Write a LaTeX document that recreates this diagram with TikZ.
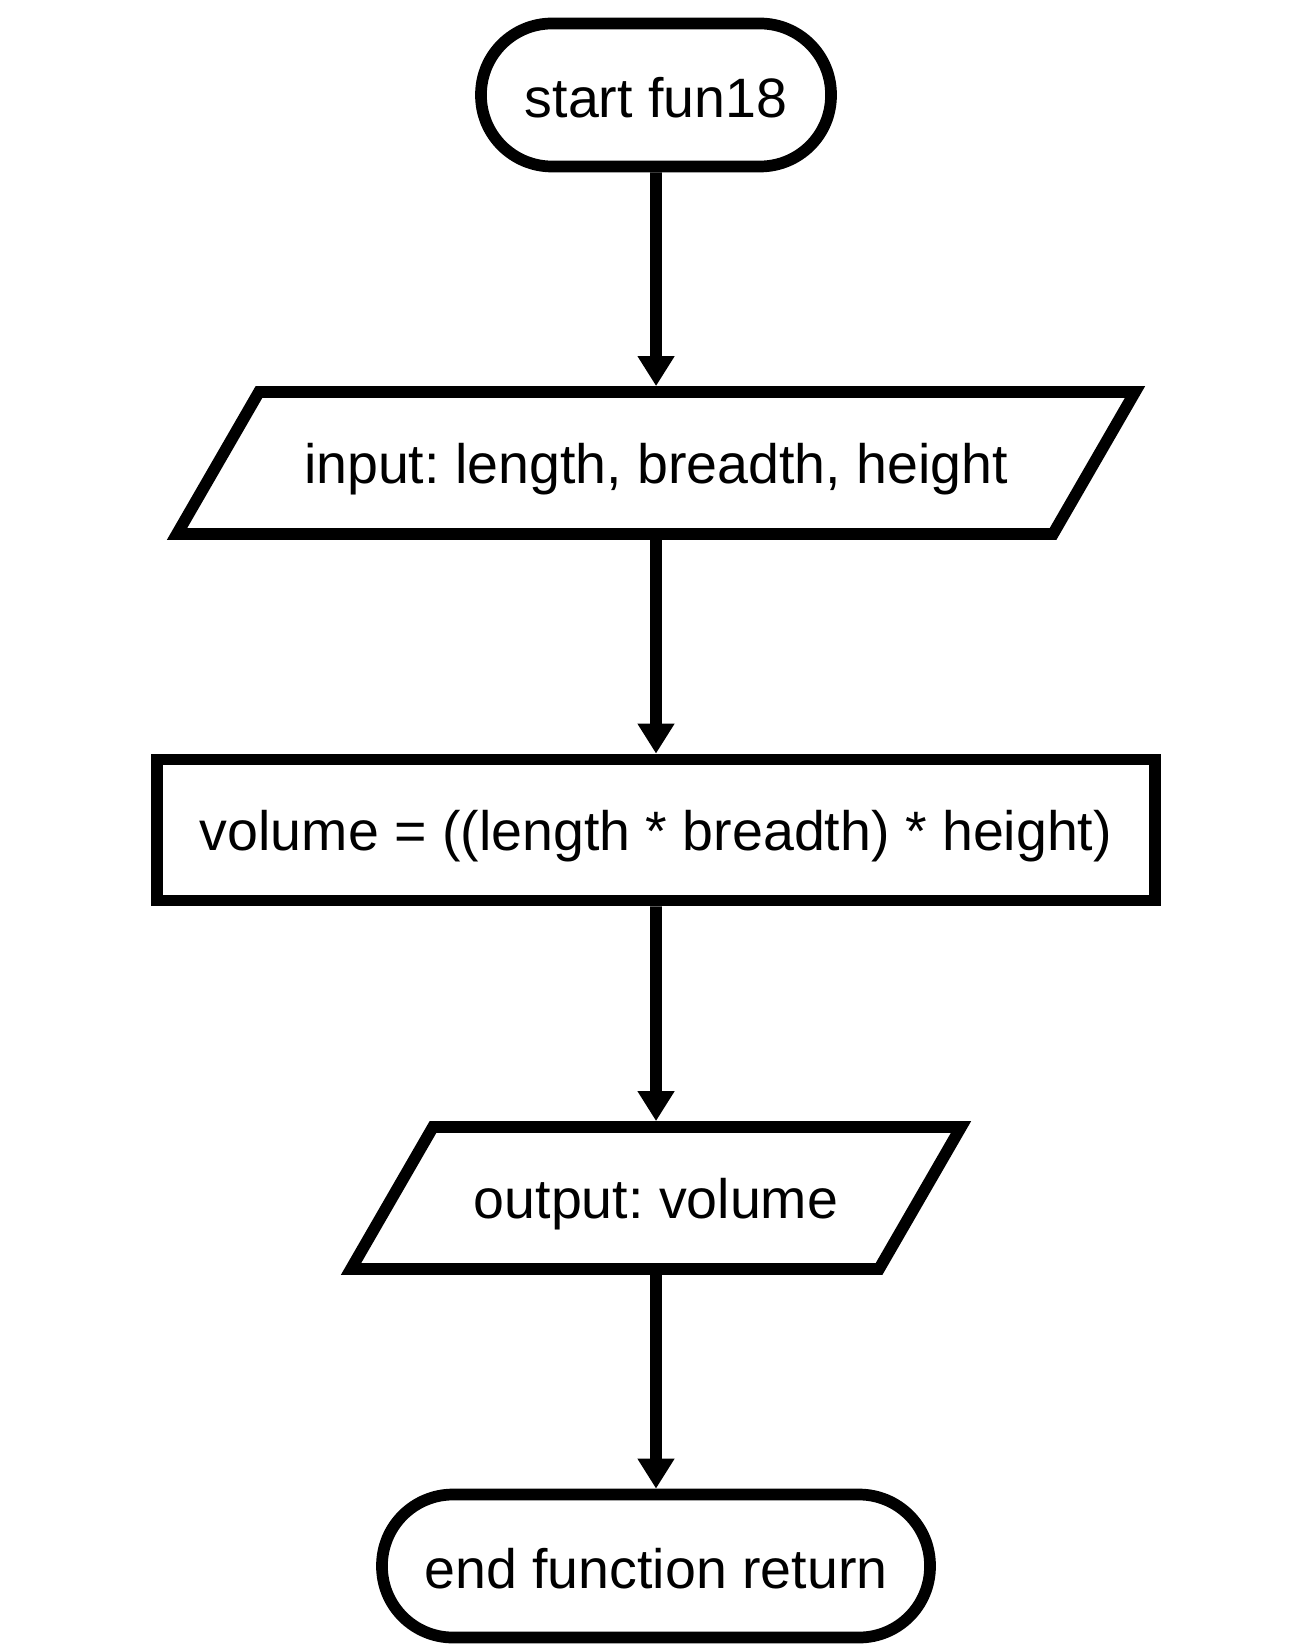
\documentclass[tikz,border=0pt]{standalone}
\usepackage{fontspec}
\setmainfont{Liberation Sans}
\usetikzlibrary{shapes.geometric,arrows.meta}
\frenchspacing

\begin{document}
\begin{tikzpicture}[
        every node/.style={font=\fontsize{15.8}{19}\selectfont},
        terminal/.style={draw,line width=0.117cm,rounded corners=0.71cm,minimum height=1.43cm,text height=0.45cm,text depth=0cm},
        inout/.style={draw,line width=0.117cm,trapezium,trapezium left angle=60,trapezium right angle=120,trapezium stretches body,text height=0.48cm,text depth=0.07cm,inner ysep=0.435cm},
        procbox/.style={draw,line width=0.117cm,minimum height=1.41cm,text height=0.48cm,text depth=0.07cm},
        flow/.style={-{Triangle[width=0.35cm,length=0.30cm]},line width=0.117cm}
    ]
            \useasboundingbox (0,0) rectangle (13.01,-16.52);

            \node[terminal,minimum width=3.5cm] (start) at (6.56,-0.95) {start fun18};
            \node[inout,minimum width=9.58cm] (input) at (6.56,-4.63) {input: length, breadth, height};
            \node[procbox,minimum width=9.98cm] (calc) at (6.56,-8.30) {volume = ((length * breadth) * height)};
            \node[inout,minimum width=6.1cm] (output) at (6.56,-11.98) {output: volume};
            \node[terminal,minimum width=5.48cm] (stop) at (6.56,-15.66) {end function return};

            \draw[flow] (start) -- (input);
            \draw[flow] (input) -- (calc);
            \draw[flow] (calc) -- (output);
            \draw[flow] (output) -- (stop);
\end{tikzpicture}
\end{document}
